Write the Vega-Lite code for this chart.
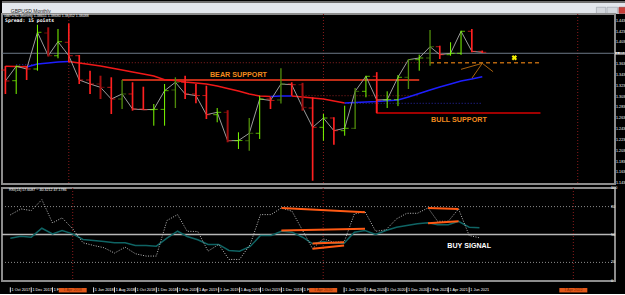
{
"$schema":"https://vega.github.io/schema/vega-lite/v6.json",
"background":"#000000",
"padding":0,
"spacing":-2,
"config":{"view":{"stroke":null},"font":"Liberation Sans"},
"datasets":{
"window":[{"title":"GBPUSD,Monthly"}],
"bars":[
{"date":"2017-10-01","open":1.3522,"high":1.3595,"low":1.3079,"close":1.3319,"kind":"down"},
{"date":"2017-11-01","open":1.3324,"high":1.3601,"low":1.3079,"close":1.3590,"kind":"up"},
{"date":"2017-12-01","open":1.3590,"high":1.3595,"low":1.3337,"close":1.3540,"kind":"down"},
{"date":"2018-01-01","open":1.3540,"high":1.4357,"low":1.3509,"close":1.4217,"kind":"up"},
{"date":"2018-02-01","open":1.4204,"high":1.4309,"low":1.3770,"close":1.3785,"kind":"down2"},
{"date":"2018-03-01","open":1.3785,"high":1.4278,"low":1.3737,"close":1.4044,"kind":"up"},
{"date":"2018-04-01","open":1.4033,"high":1.4380,"low":1.3664,"close":1.3785,"kind":"down"},
{"date":"2018-05-01","open":1.3785,"high":1.3798,"low":1.3263,"close":1.3337,"kind":"down"},
{"date":"2018-06-01","open":1.3337,"high":1.3509,"low":1.3079,"close":1.3263,"kind":"down"},
{"date":"2018-07-01","open":1.3263,"high":1.3416,"low":1.2986,"close":1.3202,"kind":"down2"},
{"date":"2018-08-01","open":1.3202,"high":1.3387,"low":1.2710,"close":1.2986,"kind":"down"},
{"date":"2018-09-01","open":1.2986,"high":1.3337,"low":1.2802,"close":1.3079,"kind":"up2"},
{"date":"2018-10-01","open":1.3079,"high":1.3295,"low":1.2771,"close":1.2802,"kind":"down"},
{"date":"2018-11-01","open":1.2802,"high":1.3213,"low":1.2784,"close":1.2789,"kind":"down"},
{"date":"2018-12-01","open":1.2789,"high":1.2894,"low":1.2494,"close":1.2795,"kind":"up"},
{"date":"2019-01-01","open":1.2795,"high":1.3263,"low":1.2494,"close":1.3140,"kind":"up"},
{"date":"2019-02-01","open":1.3153,"high":1.3387,"low":1.2820,"close":1.3295,"kind":"up2"},
{"date":"2019-03-01","open":1.3295,"high":1.3416,"low":1.2986,"close":1.3079,"kind":"down"},
{"date":"2019-04-01","open":1.3079,"high":1.3263,"low":1.2907,"close":1.3050,"kind":"down"},
{"date":"2019-05-01","open":1.3050,"high":1.3232,"low":1.2617,"close":1.2697,"kind":"down"},
{"date":"2019-06-01","open":1.2697,"high":1.2820,"low":1.2557,"close":1.2741,"kind":"up"},
{"date":"2019-07-01","open":1.2741,"high":1.2780,"low":1.2188,"close":1.2217,"kind":"down2"},
{"date":"2019-08-01","open":1.2217,"high":1.2372,"low":1.2064,"close":1.2220,"kind":"up"},
{"date":"2019-09-01","open":1.2217,"high":1.2636,"low":1.2033,"close":1.2354,"kind":"up2"},
{"date":"2019-10-01","open":1.2354,"high":1.3047,"low":1.2249,"close":1.2986,"kind":"up"},
{"date":"2019-11-01","open":1.2986,"high":1.3029,"low":1.2802,"close":1.2960,"kind":"down"},
{"date":"2019-12-01","open":1.2968,"high":1.3553,"low":1.2905,"close":1.3263,"kind":"up2"},
{"date":"2020-01-01","open":1.3263,"high":1.3295,"low":1.3047,"close":1.3250,"kind":"down"},
{"date":"2020-02-01","open":1.3250,"high":1.3285,"low":1.2771,"close":1.2833,"kind":"down2"},
{"date":"2020-03-01","open":1.2820,"high":1.3018,"low":1.1479,"close":1.2464,"kind":"down"},
{"date":"2020-04-01","open":1.2464,"high":1.2710,"low":1.2217,"close":1.2636,"kind":"up"},
{"date":"2020-05-01","open":1.2636,"high":1.2650,"low":1.2143,"close":1.2402,"kind":"down"},
{"date":"2020-06-01","open":1.2402,"high":1.2863,"low":1.2309,"close":1.2446,"kind":"up"},
{"date":"2020-07-01","open":1.2446,"high":1.3189,"low":1.2433,"close":1.3128,"kind":"up2"},
{"date":"2020-08-01","open":1.3128,"high":1.3416,"low":1.3018,"close":1.3405,"kind":"up"},
{"date":"2020-09-01","open":1.3405,"high":1.3482,"low":1.2723,"close":1.2968,"kind":"down"},
{"date":"2020-10-01","open":1.2968,"high":1.3128,"low":1.2820,"close":1.2975,"kind":"up"},
{"date":"2020-11-01","open":1.2975,"high":1.3429,"low":1.2855,"close":1.3387,"kind":"up"},
{"date":"2020-12-01","open":1.3387,"high":1.3724,"low":1.3171,"close":1.3712,"kind":"up2"},
{"date":"2021-01-01","open":1.3712,"high":1.3804,"low":1.3509,"close":1.3743,"kind":"up"},
{"date":"2021-02-01","open":1.3743,"high":1.4260,"low":1.3601,"close":1.3951,"kind":"up2"},
{"date":"2021-03-01","open":1.3951,"high":1.3970,"low":1.3724,"close":1.3804,"kind":"down"},
{"date":"2021-04-01","open":1.3804,"high":1.4033,"low":1.3785,"close":1.3830,"kind":"up"},
{"date":"2021-05-01","open":1.3830,"high":1.4247,"low":1.3800,"close":1.4236,"kind":"up"},
{"date":"2021-06-01","open":1.4236,"high":1.4278,"low":1.3848,"close":1.3866,"kind":"down"},
{"date":"2021-07-01","open":1.3866,"high":1.3880,"low":1.3835,"close":1.3848,"kind":"down"}
],
"ma":[
{"date":"2017-10-01","ma":1.3590,"trend":"down","seg":1},
{"date":"2017-11-01","ma":1.3586,"trend":"down","seg":1},
{"date":"2017-12-01","ma":1.3577,"trend":"down","seg":1},
{"date":"2017-12-01","ma":1.3577,"trend":"up","seg":2},
{"date":"2018-01-01","ma":1.3632,"trend":"up","seg":2},
{"date":"2018-02-01","ma":1.3651,"trend":"up","seg":2},
{"date":"2018-03-01","ma":1.3669,"trend":"up","seg":2},
{"date":"2018-04-01","ma":1.3678,"trend":"up","seg":2},
{"date":"2018-04-01","ma":1.3678,"trend":"down","seg":3},
{"date":"2018-05-01","ma":1.3651,"trend":"down","seg":3},
{"date":"2018-06-01","ma":1.3623,"trend":"down","seg":3},
{"date":"2018-07-01","ma":1.3595,"trend":"down","seg":3},
{"date":"2018-08-01","ma":1.3558,"trend":"down","seg":3},
{"date":"2018-09-01","ma":1.3522,"trend":"down","seg":3},
{"date":"2018-10-01","ma":1.3485,"trend":"down","seg":3},
{"date":"2018-11-01","ma":1.3448,"trend":"down","seg":3},
{"date":"2018-12-01","ma":1.3411,"trend":"down","seg":3},
{"date":"2019-01-01","ma":1.3343,"trend":"down","seg":3},
{"date":"2019-02-01","ma":1.3328,"trend":"down","seg":3},
{"date":"2019-03-01","ma":1.3300,"trend":"down","seg":3},
{"date":"2019-04-01","ma":1.3282,"trend":"down","seg":3},
{"date":"2019-05-01","ma":1.3263,"trend":"down","seg":3},
{"date":"2019-06-01","ma":1.3226,"trend":"down","seg":3},
{"date":"2019-07-01","ma":1.3180,"trend":"down","seg":3},
{"date":"2019-08-01","ma":1.3134,"trend":"down","seg":3},
{"date":"2019-09-01","ma":1.3079,"trend":"down","seg":3},
{"date":"2019-10-01","ma":1.3042,"trend":"down","seg":3},
{"date":"2019-11-01","ma":1.3033,"trend":"down","seg":3},
{"date":"2019-11-01","ma":1.3033,"trend":"up","seg":4},
{"date":"2019-12-01","ma":1.3040,"trend":"up","seg":4},
{"date":"2020-01-01","ma":1.3044,"trend":"up","seg":4},
{"date":"2020-01-01","ma":1.3044,"trend":"down","seg":5},
{"date":"2020-02-01","ma":1.3023,"trend":"down","seg":5},
{"date":"2020-03-01","ma":1.3005,"trend":"down","seg":5},
{"date":"2020-04-01","ma":1.2986,"trend":"down","seg":5},
{"date":"2020-05-01","ma":1.2950,"trend":"down","seg":5},
{"date":"2020-06-01","ma":1.2913,"trend":"down","seg":5},
{"date":"2020-06-01","ma":1.2913,"trend":"up","seg":6},
{"date":"2020-07-01","ma":1.2922,"trend":"up","seg":6},
{"date":"2020-08-01","ma":1.2931,"trend":"up","seg":6},
{"date":"2020-09-01","ma":1.2940,"trend":"up","seg":6},
{"date":"2020-10-01","ma":1.2955,"trend":"up","seg":6},
{"date":"2020-11-01","ma":1.2968,"trend":"up","seg":6},
{"date":"2020-12-01","ma":1.3023,"trend":"up","seg":6},
{"date":"2021-01-01","ma":1.3088,"trend":"up","seg":6},
{"date":"2021-02-01","ma":1.3153,"trend":"up","seg":6},
{"date":"2021-03-01","ma":1.3208,"trend":"up","seg":6},
{"date":"2021-04-01","ma":1.3263,"trend":"up","seg":6},
{"date":"2021-05-01","ma":1.3319,"trend":"up","seg":6},
{"date":"2021-06-01","ma":1.3356,"trend":"up","seg":6},
{"date":"2021-07-01","ma":1.3398,"trend":"up","seg":6}
],
"segments":[
{"name":"resistance","date":"2018-04-01","date2":"2021-02-01","price":1.3656,"price2":1.3656},
{"name":"resistance","date":"2020-02-01","date2":"2021-01-01","price":1.3047,"price2":1.3047},
{"name":"projection","date":"2021-02-01","date2":"2021-12-15","price":1.3656,"price2":1.3656},
{"name":"bear support","date":"2018-09-01","date2":"2021-01-01","price":1.3337,"price2":1.3337},
{"name":"ma level","date":"2020-06-01","date2":"2021-07-01","price":1.2907,"price2":1.2907},
{"name":"ma level","date":"2017-11-01","date2":"2018-01-01","price":1.3619,"price2":1.3619},
{"name":"bull support","date":"2020-09-01","date2":"2020-09-01","price":1.2986,"price2":1.2730},
{"name":"bull support","date":"2020-09-01","date2":"2021-12-15","price":1.2730,"price2":1.2730},
{"name":"fan","date":"2021-05-01","date2":"2021-07-01","price":1.3534,"price2":1.3645},
{"name":"fan","date":"2021-07-01","date2":"2021-08-01","price":1.3645,"price2":1.3490},
{"name":"fan","date":"2021-06-01","date2":"2021-07-01","price":1.3368,"price2":1.3645}
],
"separators":[{"date":"2018-04-01"},{"date":"2020-04-01"},{"date":"2022-04-01"}],
"last":[{"price":1.3830}],
"priceTicks":[{"price":1.1431},{"price":1.1631},{"price":1.1831},{"price":1.2031},{"price":1.2231},{"price":1.2431},{"price":1.2631},{"price":1.2831},{"price":1.3031},{"price":1.3231},{"price":1.3431},{"price":1.3631},{"price":1.4031},{"price":1.4231},{"price":1.4431}],
"rsiTicks":[{"level":0},{"level":20},{"level":50},{"level":80},{"level":100}],
"timeTicks":[{"date":"2017-10-01"},{"date":"2017-12-01"},{"date":"2018-02-01"},{"date":"2018-06-01"},{"date":"2018-08-01"},{"date":"2018-10-01"},{"date":"2018-12-01"},{"date":"2019-02-01"},{"date":"2019-04-01"},{"date":"2019-06-01"},{"date":"2019-08-01"},{"date":"2019-10-01"},{"date":"2019-12-01"},{"date":"2020-02-01"},{"date":"2020-06-01"},{"date":"2020-08-01"},{"date":"2020-10-01"},{"date":"2020-12-01"},{"date":"2021-02-01"},{"date":"2021-04-01"},{"date":"2021-06-01"}],
"notes":[{"note":"BEAR SUPPORT","date":"2019-08-01","price":1.3429},{"note":"BULL SUPPORT","date":"2021-04-25","price":1.2605}],
"marker":[{"date":"2021-10-01","price":1.3748}],
"info":[{"line":"GBPUSD,Monthly  1.38651 1.38680 1.38352 1.38488","spread":"Spread: 15 points","rsi":"RSI(14) 57.6087 ~ 40.3212 47.1786"}],
"rsi":[
{"date":"2017-10-01","rsi":71.1,"signal":46.0},
{"date":"2017-11-01","rsi":77.5,"signal":48.2},
{"date":"2017-12-01","rsi":75.7,"signal":47.1},
{"date":"2018-01-01","rsi":87.5,"signal":56.7},
{"date":"2018-02-01","rsi":62.5,"signal":50.7},
{"date":"2018-03-01","rsi":67.9,"signal":54.3},
{"date":"2018-04-01","rsi":56.1,"signal":50.7},
{"date":"2018-05-01","rsi":41.1,"signal":44.6},
{"date":"2018-06-01","rsi":38.2,"signal":43.6},
{"date":"2018-07-01","rsi":35.8,"signal":42.5},
{"date":"2018-08-01","rsi":30.0,"signal":41.1},
{"date":"2018-09-01","rsi":36.4,"signal":41.1},
{"date":"2018-10-01","rsi":29.3,"signal":38.2},
{"date":"2018-11-01","rsi":26.8,"signal":38.2},
{"date":"2018-12-01","rsi":26.8,"signal":37.5},
{"date":"2019-01-01","rsi":65.0,"signal":46.0},
{"date":"2019-02-01","rsi":71.4,"signal":53.5},
{"date":"2019-03-01","rsi":53.5,"signal":47.9},
{"date":"2019-04-01","rsi":53.2,"signal":44.3},
{"date":"2019-05-01","rsi":32.1,"signal":39.3},
{"date":"2019-06-01","rsi":39.3,"signal":39.3},
{"date":"2019-07-01","rsi":23.2,"signal":32.9},
{"date":"2019-08-01","rsi":23.2,"signal":32.1},
{"date":"2019-09-01","rsi":39.3,"signal":37.2},
{"date":"2019-10-01","rsi":71.4,"signal":48.9},
{"date":"2019-11-01","rsi":71.4,"signal":48.9},
{"date":"2019-12-01","rsi":78.6,"signal":53.5},
{"date":"2020-01-01","rsi":75.0,"signal":52.5},
{"date":"2020-02-01","rsi":54.3,"signal":47.1},
{"date":"2020-03-01","rsi":34.7,"signal":40.0},
{"date":"2020-04-01","rsi":45.4,"signal":42.5},
{"date":"2020-05-01","rsi":41.8,"signal":40.7},
{"date":"2020-06-01","rsi":41.8,"signal":40.7},
{"date":"2020-07-01","rsi":72.2,"signal":52.5},
{"date":"2020-08-01","rsi":74.6,"signal":54.3},
{"date":"2020-09-01","rsi":53.5,"signal":50.0},
{"date":"2020-10-01","rsi":55.0,"signal":54.3},
{"date":"2020-11-01","rsi":66.8,"signal":57.8},
{"date":"2020-12-01","rsi":72.8,"signal":59.6},
{"date":"2021-01-01","rsi":72.8,"signal":61.5},
{"date":"2021-02-01","rsi":78.6,"signal":62.5},
{"date":"2021-03-01","rsi":64.2,"signal":60.4},
{"date":"2021-04-01","rsi":64.2,"signal":60.4},
{"date":"2021-05-01","rsi":77.5,"signal":64.2},
{"date":"2021-06-01","rsi":48.9,"signal":57.8},
{"date":"2021-07-01","rsi":46.5,"signal":57.2}
],
"rsilevels":[{"level":80},{"level":50},{"level":20}],
"divergences":[
{"date":"2019-12-01","date2":"2020-08-01","rsi":78.6,"rsi2":73.9},
{"date":"2019-12-01","date2":"2020-08-01","rsi":54.3,"rsi2":56.1},
{"date":"2020-03-01","date2":"2020-06-01","rsi":40.4,"rsi2":41.8},
{"date":"2020-03-01","date2":"2020-06-01","rsi":34.7,"rsi2":38.2},
{"date":"2021-02-01","date2":"2021-05-01","rsi":78.6,"rsi2":77.5},
{"date":"2021-02-01","date2":"2021-05-01","rsi":62.1,"rsi2":64.2}
],
"signals":[{"note":"BUY SIGNAL","date":"2021-06-01","rsi":37.2}]
},
"vconcat":[
{
"width":625,"height":13,
"view":{"fill":"#e3e7ed","stroke":null},
"data":{"name":"window"},
"layer":[
{"mark":{"type":"rule","color":"#6e6e6e","strokeWidth":2},"encoding":{"y":{"datum":0.93,"type":"quantitative","scale":{"domain":[0,1]},"axis":null}}},
{"mark":{"type":"text","align":"left","baseline":"middle","fontSize":5,"color":"#1e1e1e"},"encoding":{"text":{"field":"title"},"x":{"datum":0.014,"type":"quantitative","scale":{"domain":[0,1]},"axis":null},"y":{"datum":0.25,"type":"quantitative","scale":{"domain":[0,1]},"axis":null}}},
{"mark":{"type":"rect","color":"#d3d7dd","stroke":"#8a9099","strokeWidth":0.5},"encoding":{"x":{"datum":0.951,"type":"quantitative","scale":{"domain":[0,1]},"axis":null},"x2":{"datum":0.966},"y":{"datum":0.04,"type":"quantitative","scale":{"domain":[0,1]},"axis":null},"y2":{"datum":0.52}}},
{"mark":{"type":"rect","color":"#d3d7dd","stroke":"#8a9099","strokeWidth":0.5},"encoding":{"x":{"datum":0.968,"type":"quantitative","scale":{"domain":[0,1]},"axis":null},"x2":{"datum":0.985},"y":{"datum":0.04,"type":"quantitative","scale":{"domain":[0,1]},"axis":null},"y2":{"datum":0.52}}},
{"mark":{"type":"rect","color":"#c9403a","stroke":"#8a3030","strokeWidth":0.5},"encoding":{"x":{"datum":0.987,"type":"quantitative","scale":{"domain":[0,1]},"axis":null},"x2":{"datum":0.999},"y":{"datum":0.04,"type":"quantitative","scale":{"domain":[0,1]},"axis":null},"y2":{"datum":0.52}}}
]
},
{
"spacing":-2,
"vconcat":[
{
"width":613,"height":170,
"view":{"stroke":"#8c8c8c","strokeWidth":2},
"resolve":{"scale":{"color":"independent","strokeWidth":"independent"}},
"layer":[
{"data":{"name":"separators"},"mark":{"type":"rule","color":"#8b1c1c","strokeDash":[1,2],"strokeWidth":1},"encoding":{"x":{"field":"date","type":"temporal","scale":{"type":"utc","domain":[{"year":2017,"month":9,"date":21,"hours":6,"utc":true},{"year":2022,"month":7,"date":17,"utc":true}]},"axis":null}}},
{"data":{"name":"last"},"mark":{"type":"rule","color":"#6d7886","strokeWidth":1},"encoding":{"y":{"field":"price","type":"quantitative","scale":{"domain":[1.14182,1.45547],"zero":false,"nice":false},"axis":null}}},
{"data":{"name":"segments"},"transform":[{"filter":"datum.name === 'resistance'"}],"mark":{"type":"rule","color":"#8e2222","strokeDash":[1,2],"strokeWidth":1},"encoding":{"x":{"field":"date","type":"temporal","scale":{"type":"utc","domain":[{"year":2017,"month":9,"date":21,"hours":6,"utc":true},{"year":2022,"month":7,"date":17,"utc":true}]},"axis":null},"x2":{"field":"date2"},"y":{"field":"price","type":"quantitative","scale":{"domain":[1.14182,1.45547],"zero":false,"nice":false},"axis":null},"y2":{"field":"price2"}}},
{"data":{"name":"segments"},"transform":[{"filter":"datum.name === 'ma level'"}],"mark":{"type":"rule","color":"#2a2ab0","strokeDash":[1,2],"strokeWidth":1},"encoding":{"x":{"field":"date","type":"temporal","scale":{"type":"utc","domain":[{"year":2017,"month":9,"date":21,"hours":6,"utc":true},{"year":2022,"month":7,"date":17,"utc":true}]},"axis":null},"x2":{"field":"date2"},"y":{"field":"price","type":"quantitative","scale":{"domain":[1.14182,1.45547],"zero":false,"nice":false},"axis":null},"y2":{"field":"price2"}}},
{"data":{"name":"segments"},"transform":[{"filter":"datum.name === 'projection'"}],"mark":{"type":"rule","color":"#b5650f","strokeDash":[4,3],"strokeWidth":1.5},"encoding":{"x":{"field":"date","type":"temporal","scale":{"type":"utc","domain":[{"year":2017,"month":9,"date":21,"hours":6,"utc":true},{"year":2022,"month":7,"date":17,"utc":true}]},"axis":null},"x2":{"field":"date2"},"y":{"field":"price","type":"quantitative","scale":{"domain":[1.14182,1.45547],"zero":false,"nice":false},"axis":null},"y2":{"field":"price2"}}},
{"data":{"name":"segments"},"transform":[{"filter":"datum.name === 'bear support'"}],"mark":{"type":"rule","color":"#ff3d1f","strokeWidth":1.5},"encoding":{"x":{"field":"date","type":"temporal","scale":{"type":"utc","domain":[{"year":2017,"month":9,"date":21,"hours":6,"utc":true},{"year":2022,"month":7,"date":17,"utc":true}]},"axis":null},"x2":{"field":"date2"},"y":{"field":"price","type":"quantitative","scale":{"domain":[1.14182,1.45547],"zero":false,"nice":false},"axis":null},"y2":{"field":"price2"}}},
{"data":{"name":"segments"},"transform":[{"filter":"datum.name === 'bull support'"}],"mark":{"type":"rule","color":"#a00000","strokeWidth":2},"encoding":{"x":{"field":"date","type":"temporal","scale":{"type":"utc","domain":[{"year":2017,"month":9,"date":21,"hours":6,"utc":true},{"year":2022,"month":7,"date":17,"utc":true}]},"axis":null},"x2":{"field":"date2"},"y":{"field":"price","type":"quantitative","scale":{"domain":[1.14182,1.45547],"zero":false,"nice":false},"axis":null},"y2":{"field":"price2"}}},
{"data":{"name":"segments"},"transform":[{"filter":"datum.name === 'fan'"}],"mark":{"type":"rule","color":"#a8620f","strokeWidth":1},"encoding":{"x":{"field":"date","type":"temporal","scale":{"type":"utc","domain":[{"year":2017,"month":9,"date":21,"hours":6,"utc":true},{"year":2022,"month":7,"date":17,"utc":true}]},"axis":null},"x2":{"field":"date2"},"y":{"field":"price","type":"quantitative","scale":{"domain":[1.14182,1.45547],"zero":false,"nice":false},"axis":null},"y2":{"field":"price2"}}},
{"data":{"name":"ma"},"mark":{"type":"line","strokeWidth":1.5},"encoding":{"x":{"field":"date","type":"temporal","scale":{"type":"utc","domain":[{"year":2017,"month":9,"date":21,"hours":6,"utc":true},{"year":2022,"month":7,"date":17,"utc":true}]},"axis":null},"y":{"field":"ma","type":"quantitative","scale":{"domain":[1.14182,1.45547],"zero":false,"nice":false},"axis":null},"color":{"field":"trend","type":"nominal","scale":{"domain":["down","up"],"range":["#f01818","#1e1eff"]},"legend":null},"detail":{"field":"seg","type":"nominal"}}},
{"data":{"name":"bars"},"mark":{"type":"line","color":"#9c9c9c","strokeWidth":1},"encoding":{"x":{"field":"date","type":"temporal","scale":{"type":"utc","domain":[{"year":2017,"month":9,"date":21,"hours":6,"utc":true},{"year":2022,"month":7,"date":17,"utc":true}]},"axis":null},"y":{"field":"close","type":"quantitative","scale":{"domain":[1.14182,1.45547],"zero":false,"nice":false},"axis":null}}},
{"data":{"name":"bars"},"mark":{"type":"rule"},"encoding":{"x":{"field":"date","type":"temporal","scale":{"type":"utc","domain":[{"year":2017,"month":9,"date":21,"hours":6,"utc":true},{"year":2022,"month":7,"date":17,"utc":true}]},"axis":null},"y":{"field":"low","type":"quantitative","scale":{"domain":[1.14182,1.45547],"zero":false,"nice":false},"axis":null},"y2":{"field":"high"},"color":{"field":"kind","type":"nominal","scale":{"domain":["up","up2","down","down2"],"range":["#7cfc00","#4f8a0b","#ff2020","#a31010"]},"legend":null},"strokeWidth":{"field":"kind","type":"ordinal","scale":{"domain":["up","up2","down","down2"],"range":[1,2,1,2]},"legend":null}}},
{"data":{"name":"bars"},"mark":{"type":"tick","orient":"horizontal","size":4,"thickness":1,"xOffset":-2},"encoding":{"x":{"field":"date","type":"temporal","scale":{"type":"utc","domain":[{"year":2017,"month":9,"date":21,"hours":6,"utc":true},{"year":2022,"month":7,"date":17,"utc":true}]},"axis":null},"y":{"field":"open","type":"quantitative","scale":{"domain":[1.14182,1.45547],"zero":false,"nice":false},"axis":null},"color":{"field":"kind","type":"nominal","scale":{"domain":["up","up2","down","down2"],"range":["#7cfc00","#4f8a0b","#ff2020","#a31010"]},"legend":null}}},
{"data":{"name":"bars"},"mark":{"type":"tick","orient":"horizontal","size":4,"thickness":1,"xOffset":2},"encoding":{"x":{"field":"date","type":"temporal","scale":{"type":"utc","domain":[{"year":2017,"month":9,"date":21,"hours":6,"utc":true},{"year":2022,"month":7,"date":17,"utc":true}]},"axis":null},"y":{"field":"close","type":"quantitative","scale":{"domain":[1.14182,1.45547],"zero":false,"nice":false},"axis":null},"color":{"field":"kind","type":"nominal","scale":{"domain":["up","up2","down","down2"],"range":["#7cfc00","#4f8a0b","#ff2020","#a31010"]},"legend":null}}},
{"data":{"name":"notes"},"mark":{"type":"text","fontSize":7.2,"fontWeight":"bold","color":"#f28a1e","font":"Liberation Sans"},"encoding":{"x":{"field":"date","type":"temporal","scale":{"type":"utc","domain":[{"year":2017,"month":9,"date":21,"hours":6,"utc":true},{"year":2022,"month":7,"date":17,"utc":true}]},"axis":null},"y":{"field":"price","type":"quantitative","scale":{"domain":[1.14182,1.45547],"zero":false,"nice":false},"axis":null},"text":{"field":"note"}}},
{"data":{"name":"marker"},"mark":{"type":"point","shape":"cross","angle":45,"filled":true,"size":30,"color":"#f5f000","opacity":1},"encoding":{"x":{"field":"date","type":"temporal","scale":{"type":"utc","domain":[{"year":2017,"month":9,"date":21,"hours":6,"utc":true},{"year":2022,"month":7,"date":17,"utc":true}]},"axis":null},"y":{"field":"price","type":"quantitative","scale":{"domain":[1.14182,1.45547],"zero":false,"nice":false},"axis":null}}},
{"data":{"name":"info"},"mark":{"type":"text","align":"left","baseline":"middle","fontSize":3.6,"color":"#ffffff"},"encoding":{"x":{"datum":{"year":2017,"month":9,"date":27,"utc":true},"type":"temporal","scale":{"type":"utc","domain":[{"year":2017,"month":9,"date":21,"hours":6,"utc":true},{"year":2022,"month":7,"date":17,"utc":true}]},"axis":null},"y":{"datum":1.4518,"type":"quantitative","scale":{"domain":[1.14182,1.45547],"zero":false,"nice":false},"axis":null},"text":{"field":"line"}}},
{"data":{"name":"info"},"mark":{"type":"text","align":"left","baseline":"middle","fontSize":4.8,"fontWeight":"bold","font":"DejaVu Sans Mono","color":"#ffffff"},"encoding":{"x":{"datum":{"year":2017,"month":9,"date":30,"utc":true},"type":"temporal","scale":{"type":"utc","domain":[{"year":2017,"month":9,"date":21,"hours":6,"utc":true},{"year":2022,"month":7,"date":17,"utc":true}]},"axis":null},"y":{"datum":1.4426,"type":"quantitative","scale":{"domain":[1.14182,1.45547],"zero":false,"nice":false},"axis":null},"text":{"field":"spread"}}},
{"data":{"name":"priceTicks"},"mark":{"type":"text","align":"left","baseline":"middle","fontSize":3.7,"color":"#ffffff"},"encoding":{"x":{"datum":{"year":2022,"month":7,"date":20,"utc":true},"type":"temporal","scale":{"type":"utc","domain":[{"year":2017,"month":9,"date":21,"hours":6,"utc":true},{"year":2022,"month":7,"date":17,"utc":true}]},"axis":null},"y":{"field":"price","type":"quantitative","scale":{"domain":[1.14182,1.45547],"zero":false,"nice":false},"axis":null},"text":{"field":"price","type":"quantitative","format":".4f"}}},
{"data":{"name":"last"},"mark":{"type":"rect","color":"#ffffff"},"encoding":{"x":{"datum":{"year":2022,"month":7,"date":18,"utc":true},"type":"temporal","scale":{"type":"utc","domain":[{"year":2017,"month":9,"date":21,"hours":6,"utc":true},{"year":2022,"month":7,"date":17,"utc":true}]},"axis":null},"x2":{"datum":{"year":2022,"month":8,"date":20,"utc":true}},"y":{"datum":1.3808,"type":"quantitative","scale":{"domain":[1.14182,1.45547],"zero":false,"nice":false},"axis":null},"y2":{"datum":1.3852}}},
{"data":{"name":"last"},"mark":{"type":"text","align":"left","baseline":"middle","fontSize":3.6,"color":"#000000"},"encoding":{"x":{"datum":{"year":2022,"month":7,"date":20,"utc":true},"type":"temporal","scale":{"type":"utc","domain":[{"year":2017,"month":9,"date":21,"hours":6,"utc":true},{"year":2022,"month":7,"date":17,"utc":true}]},"axis":null},"y":{"field":"price","type":"quantitative","scale":{"domain":[1.14182,1.45547],"zero":false,"nice":false},"axis":null},"text":{"field":"price","type":"quantitative","format":".4f"}}}
]
},
{
"width":613,"height":93,
"view":{"stroke":"#8c8c8c","strokeWidth":2},
"layer":[
{"data":{"name":"rsilevels"},"transform":[{"filter":"datum.level !== 50"}],"mark":{"type":"rule","color":"#8c8c8c","strokeDash":[1,2],"strokeWidth":1},"encoding":{"y":{"field":"level","type":"quantitative","scale":{"domain":[0,100],"nice":false},"axis":null}}},
{"data":{"name":"rsilevels"},"transform":[{"filter":"datum.level === 50"}],"mark":{"type":"rule","color":"#b8b8b8","strokeWidth":1.5},"encoding":{"y":{"field":"level","type":"quantitative","scale":{"domain":[0,100],"nice":false},"axis":null}}},
{"data":{"name":"separators"},"mark":{"type":"rule","color":"#8b1c1c","strokeDash":[1,2],"strokeWidth":1},"encoding":{"x":{"field":"date","type":"temporal","scale":{"type":"utc","domain":[{"year":2017,"month":9,"date":21,"hours":6,"utc":true},{"year":2022,"month":7,"date":17,"utc":true}]},"axis":null}}},
{"data":{"name":"rsi"},"mark":{"type":"line","color":"#0f6464","strokeWidth":1.5},"encoding":{"x":{"field":"date","type":"temporal","scale":{"type":"utc","domain":[{"year":2017,"month":9,"date":21,"hours":6,"utc":true},{"year":2022,"month":7,"date":17,"utc":true}]},"axis":null},"y":{"field":"signal","type":"quantitative","scale":{"domain":[0,100],"nice":false},"axis":null}}},
{"data":{"name":"rsi"},"mark":{"type":"line","color":"#bdbdbd","strokeDash":[1,1.5],"strokeWidth":1},"encoding":{"x":{"field":"date","type":"temporal","scale":{"type":"utc","domain":[{"year":2017,"month":9,"date":21,"hours":6,"utc":true},{"year":2022,"month":7,"date":17,"utc":true}]},"axis":null},"y":{"field":"rsi","type":"quantitative","scale":{"domain":[0,100],"nice":false},"axis":null}}},
{"data":{"name":"divergences"},"mark":{"type":"rule","color":"#ff5a14","strokeWidth":2},"encoding":{"x":{"field":"date","type":"temporal","scale":{"type":"utc","domain":[{"year":2017,"month":9,"date":21,"hours":6,"utc":true},{"year":2022,"month":7,"date":17,"utc":true}]},"axis":null},"x2":{"field":"date2"},"y":{"field":"rsi","type":"quantitative","scale":{"domain":[0,100],"nice":false},"axis":null},"y2":{"field":"rsi2"}}},
{"data":{"name":"signals"},"mark":{"type":"text","fontSize":7.1,"fontWeight":"bold","color":"#ffffff","font":"Liberation Sans"},"encoding":{"x":{"field":"date","type":"temporal","scale":{"type":"utc","domain":[{"year":2017,"month":9,"date":21,"hours":6,"utc":true},{"year":2022,"month":7,"date":17,"utc":true}]},"axis":null},"y":{"field":"rsi","type":"quantitative","scale":{"domain":[0,100],"nice":false},"axis":null},"text":{"field":"note"}}},
{"data":{"name":"info"},"mark":{"type":"text","align":"left","baseline":"middle","fontSize":3.6,"color":"#ffffff"},"encoding":{"x":{"datum":{"year":2017,"month":9,"date":27,"utc":true},"type":"temporal","scale":{"type":"utc","domain":[{"year":2017,"month":9,"date":21,"hours":6,"utc":true},{"year":2022,"month":7,"date":17,"utc":true}]},"axis":null},"y":{"datum":97.8,"type":"quantitative","scale":{"domain":[0,100],"nice":false},"axis":null},"text":{"field":"rsi"}}},
{"data":{"name":"rsiTicks"},"mark":{"type":"text","align":"left","baseline":"middle","fontSize":3.7,"color":"#ffffff"},"encoding":{"x":{"datum":{"year":2022,"month":7,"date":20,"utc":true},"type":"temporal","scale":{"type":"utc","domain":[{"year":2017,"month":9,"date":21,"hours":6,"utc":true},{"year":2022,"month":7,"date":17,"utc":true}]},"axis":null},"y":{"field":"level","type":"quantitative","scale":{"domain":[0,100],"nice":false},"axis":null},"text":{"field":"level","type":"quantitative","format":"d"}}},
{"data":{"name":"timeTicks"},"mark":{"type":"rule","color":"#e0e0e0","strokeWidth":1},"encoding":{"x":{"field":"date","type":"temporal","scale":{"type":"utc","domain":[{"year":2017,"month":9,"date":21,"hours":6,"utc":true},{"year":2022,"month":7,"date":17,"utc":true}]},"axis":null},"y":{"datum":-6.8,"type":"quantitative","scale":{"domain":[0,100],"nice":false},"axis":null},"y2":{"datum":-12.3}}},
{"data":{"name":"timeTicks"},"mark":{"type":"text","align":"left","baseline":"middle","fontSize":3.8,"color":"#ffffff","dx":1.2},"encoding":{"x":{"field":"date","type":"temporal","scale":{"type":"utc","domain":[{"year":2017,"month":9,"date":21,"hours":6,"utc":true},{"year":2022,"month":7,"date":17,"utc":true}]},"axis":null},"y":{"datum":-9.6,"type":"quantitative","scale":{"domain":[0,100],"nice":false},"axis":null},"text":{"field":"date","type":"temporal","timeUnit":"utcyearmonthdate","format":"%-d %b %Y"}}},
{"data":{"name":"separators"},"mark":{"type":"bar","color":"#e2581a","width":28},"encoding":{"x":{"field":"date","type":"temporal","scale":{"type":"utc","domain":[{"year":2017,"month":9,"date":21,"hours":6,"utc":true},{"year":2022,"month":7,"date":17,"utc":true}]},"axis":null},"y":{"datum":-7.5,"type":"quantitative","scale":{"domain":[0,100],"nice":false},"axis":null},"y2":{"datum":-12.3}}},
{"data":{"name":"separators"},"mark":{"type":"text","fontSize":3.8,"color":"#8a2a00","baseline":"middle"},"encoding":{"x":{"field":"date","type":"temporal","scale":{"type":"utc","domain":[{"year":2017,"month":9,"date":21,"hours":6,"utc":true},{"year":2022,"month":7,"date":17,"utc":true}]},"axis":null},"y":{"datum":-9.9,"type":"quantitative","scale":{"domain":[0,100],"nice":false},"axis":null},"text":{"field":"date","type":"temporal","timeUnit":"utcyearmonthdate","format":"%-d %b %Y"}}}
]
}
]
}
]
}
